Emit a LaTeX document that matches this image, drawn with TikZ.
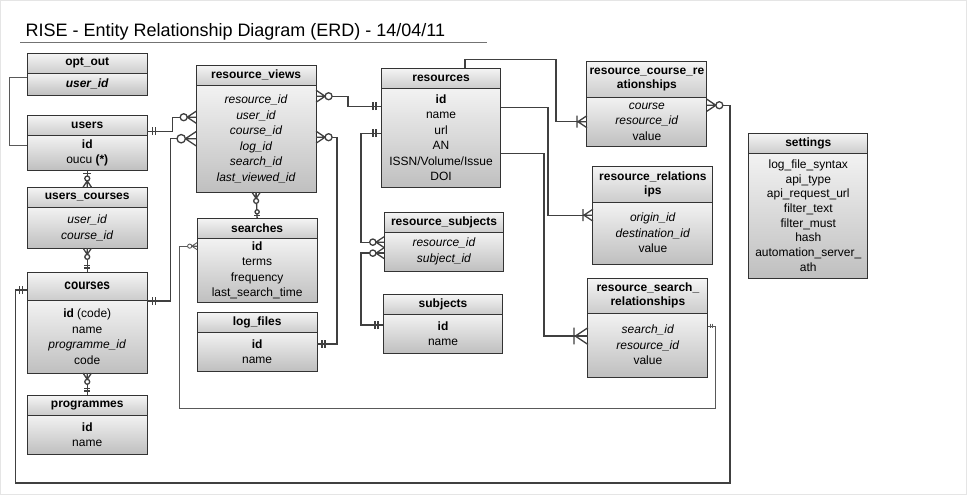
\documentclass[tikz,border=0pt]{standalone}
\usepackage{fontspec}
\setmainfont{Liberation Sans}
\usepackage{graphicx}
\usetikzlibrary{positioning}
\tikzset{
  every picture/.append style={line width=0.6pt},
  thead/.style={draw=black!80, line width=1pt, top color=black!4, bottom color=black!20,
    minimum width=120, minimum height=20, inner sep=1pt, outer sep=0pt, align=center,
    font=\bfseries\fontsize{12}{14}\selectfont, anchor=north west},
  tbody/.style={draw=black!80, line width=1pt, top color=black!5, bottom color=black!25,
    minimum width=120, inner sep=1pt, outer sep=0pt, align=center,
    font=\fontsize{12}{15.5}\selectfont},
  rel/.style={black!75, line width=1.3pt},
  thinrel/.style={black!65, line width=0.9pt},
  pics/one/.style={code={\draw (5,-4) -- (5,4) (8,-4) -- (8,4);}},
  pics/onebar/.style={code={\draw (3,-4) -- (3,4);}},
  pics/zone/.style={code={\draw (4,-4) -- (4,4); \draw[fill=white] (9,0) circle[radius=3];}},
  pics/zmany/.style={code={\draw (0,-6) -- (9,0) -- (0,6) (0,0) -- (9,0);
    \draw[fill=white] (12.5,0) circle[radius=3.5];}},
  pics/omany/.style={code={\draw (0,-6) -- (9,0) -- (0,6) (0,0) -- (9,0) (10,-6) -- (10,6);}},
}

\begin{document}
\begin{tikzpicture}[x=1pt, y=-1pt]

\useasboundingbox[draw=black!10, fill=white] (0,0) rectangle (967,494);

\node[anchor=base west, inner sep=0pt, font=\fontsize{18}{20}\selectfont] (title) at (25,36)
  {RISE - Entity Relationship Diagram (ERD) - 14/04/11};
\draw[black!55, line width=1.2pt] (20,42) -- (487,42);

% left column
\node[thead] (optout-h) at (27,53) {opt\_out};
\node[tbody, minimum height=22, below=0pt of optout-h] (optout) {\textbf{\textit{user\_id}}};

\node[thead] (users-h) at (27,115) {users};
\node[tbody, minimum height=35, below=0pt of users-h] (users) {\textbf{id}\\oucu \textbf{(*)}};

\node[thead] (uc-h) at (27,187) {users\_courses};
\node[tbody, minimum height=41, below=0pt of uc-h] (uc) {\textit{user\_id}\\\textit{course\_id}};

\node[thead, minimum height=28, font=\bfseries\fontsize{14}{16}\selectfont] (courses-h) at (27,272)
  {\scalebox{0.85}[1]{courses}};
\node[tbody, minimum height=73, below=0pt of courses-h] (courses)
  {\textbf{id} (code)\\name\\\textit{programme\_id}\\code};

\node[thead] (prog-h) at (27,395) {programmes};
\node[tbody, minimum height=39, below=0pt of prog-h] (prog) {\textbf{id}\\name};

% second column
\node[thead] (rv-h) at (196,65) {resource\_views};
\node[tbody, minimum height=107, below=0pt of rv-h] (rv)
  {\textit{resource\_id}\\\textit{user\_id}\\\textit{course\_id}\\\textit{log\_id}\\\textit{search\_id}\\\textit{last\_viewed\_id}};

\node[thead] (searches-h) at (197,218) {searches};
\node[tbody, minimum height=64, below=0pt of searches-h] (searches)
  {\textbf{id}\\terms\\frequency\\last\_search\_time};

\node[thead] (logf-h) at (197,312) {log\_files};
\node[tbody, minimum height=39, below=0pt of logf-h] (logf) {\textbf{id}\\name};

% third column
\node[thead] (res-h) at (381,68) {resources};
\node[tbody, minimum height=99, below=0pt of res-h] (res)
  {\textbf{id}\\name\\url\\AN\\ISSN/Volume/Issue\\DOI};

\node[thead] (rsub-h) at (384,212) {resource\_subjects};
\node[tbody, minimum height=39, below=0pt of rsub-h] (rsub) {\textit{resource\_id}\\\textit{subject\_id}};

\node[thead] (subj-h) at (383,294) {subjects};
\node[tbody, minimum height=39, below=0pt of subj-h] (subj) {\textbf{id}\\name};

% relationship tables
\node[thead, minimum height=36] (rcr-h) at (587,61) {resource\_course\_re\\ationships};
\node[tbody, minimum height=49, below=0pt of rcr-h] (rcr) {\textit{course}\\\textit{resource\_id}\\value};

\node[thead, minimum height=36] (rr-h) at (593,166) {resource\_relations\\ips};
\node[tbody, minimum height=62, below=0pt of rr-h] (rr) {\textit{origin\_id}\\\textit{destination\_id}\\value};

\node[thead, minimum height=35] (rsr-h) at (588,278) {resource\_search\_\\relationships};
\node[tbody, minimum height=64, below=0pt of rsr-h] (rsr) {\textit{search\_id}\\\textit{resource\_id}\\value};

\node[thead, minimum width=119] (set-h) at (749,133) {settings};
\node[tbody, minimum width=119, minimum height=125, font=\fontsize{12}{14.7}\selectfont, below=0pt of set-h] (set)
  {log\_file\_syntax\\api\_type\\api\_request\_url\\filter\_text\\filter\_must\\hash\\automation\_server\_\\ath};

% relationships
\draw[thinrel] ([yshift=7]optout.west) -- ++(-18,0) |- ([yshift=7.5]users.west);

\draw[rel] ([yshift=4]users-h.south east) -- ++(25,0) |- ([yshift=21.5]rv.west);
\pic[rel] at ([yshift=4]users-h.south east) {one};
\pic[rel, rotate=180] at ([yshift=21.5]rv.west) {zmany};

\draw[rel] ([yshift=-1]courses-h.south east) -- ++(23,0) |- (rv.west);
\pic[rel] at ([yshift=-1]courses-h.south east) {one};
\pic[rel, rotate=180, scale=1.2] at (rv.west) {zmany};

\draw[rel] (users.south) -- (uc-h.north);
\pic[rel, rotate=-90] at (users.south) {onebar};
\pic[rel, rotate=90, scale=0.7] at (uc-h.north) {zmany};

\draw[rel] (uc.south) -- (courses-h.north);
\pic[rel, rotate=-90, scale=0.7] at (uc.south) {zmany};
\pic[rel, rotate=90, scale=0.8] at (courses-h.north) {one};

\draw[rel] (courses.south) -- (prog-h.north);
\pic[rel, rotate=-90, scale=0.7] at (courses.south) {zmany};
\pic[rel, rotate=90, scale=0.8] at (prog-h.north) {one};

\draw[rel] (rv.south) -- (searches-h.north);
\pic[rel, rotate=-90, scale=0.7] at (rv.south) {zmany};
\pic[rel, rotate=90, scale=0.7] at (searches-h.north) {zone};

\draw[rel] ([yshift=42.5]rv.east) -- ++(32,0) |- ([yshift=31.5]res.west);
\pic[rel] at ([yshift=42.5]rv.east) {zmany};
\pic[rel, rotate=180] at ([yshift=31.5]res.west) {one};

\draw[rel] ([yshift=1.5]rv.east) -- ++(21,0) |- ([yshift=7.5]logf.east);
\pic[rel] at ([yshift=1.5]rv.east) {zmany};
\pic[rel] at ([yshift=7.5]logf.east) {one};

\draw[rel] ([yshift=4.5]res.west) -- ++(-20,0) |- ([yshift=9.5]rsub.west);
\pic[rel, rotate=180] at ([yshift=4.5]res.west) {one};
\pic[rel, rotate=180, scale=0.9] at ([yshift=9.5]rsub.west) {zmany};

\draw[rel] ([yshift=8.5]subj.west) -- ++(-22,0) |- ([yshift=-1.5]rsub.west);
\pic[rel, rotate=180] at ([yshift=8.5]subj.west) {one};
\pic[rel, rotate=180, scale=0.9] at ([yshift=-1.5]rsub.west) {zmany};

\draw[rel] ([xshift=24]res-h.north) |- ++(91,-9) |- (rcr.west);
\pic[rel, rotate=180] at (rcr.west) {omany};

\draw[rel] ([yshift=30.5]res.east) -- ++(47,0) |- ([yshift=18]rr.west);
\pic[rel, rotate=180] at ([yshift=18]rr.west) {omany};

\draw[rel] ([yshift=-15.5]res.east) -- ++(43,0) |- ([yshift=9]rsr.west);
\pic[rel, rotate=180, scale=1.4] at ([yshift=9]rsr.west) {omany};

\draw[rel] ([yshift=16.5]rcr.east) -- ++(23,0) |- ++(-715,378) |- ([yshift=-4]courses-h.west);
\pic[rel] at ([yshift=16.5]rcr.east) {zmany};
\pic[rel, rotate=180] at ([yshift=-4]courses-h.west) {one};

\draw[thinrel] ([yshift=24]searches.west) -- ++(-18,0) |- ++(537,162) |- ([yshift=19]rsr.east);
\pic[thinrel, rotate=180, scale=0.6] at ([yshift=24]searches.west) {zmany};
\pic[thinrel, scale=0.6] at ([yshift=19]rsr.east) {one};

\end{tikzpicture}
\end{document}
